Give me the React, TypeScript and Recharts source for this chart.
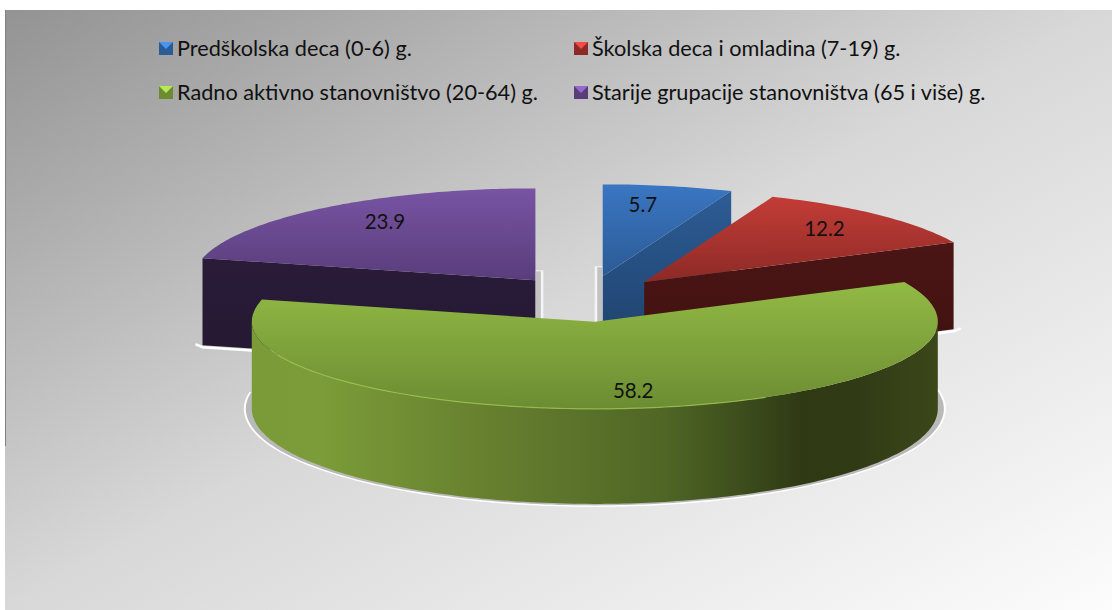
import { PieChart, Pie, Legend } from "recharts";

const categories = [
  "Predškolska deca (0-6) g.",
  "Školska deca i omladina (7-19) g.",
  "Radno aktivno stanovništvo (20-64) g.",
  "Starije grupacije stanovništva (65 i više) g.",
];
const shares = [5.7, 12.2, 58.2, 23.9];

const topFrom = ["#3a76c2", "#c43c37", "#92ba45", "#7854a3"];
const topTo = ["#2c5b95", "#8c2a26", "#6c8c32", "#593d7b"];
const sideFrom = ["#2d5c95", "#4b1615", "#7d9e39", "#2a1c39"];
const sideTo = ["#1d3f68", "#3e100f", "#384218", "#241832"];
const FRONT_SLICE = 2;

const data = categories.map((name, i) => ({ name, value: shares[i] }));

const RAD = Math.PI / 180;
const BACK_RY = 0.268;
const FRONT_RY = 0.254;
const EXPLODE = 0.25;

// the picture has a strong perspective, slices on the left sit further round
const warp = (t: number) => {
  if (t > 180) return t + 10 * Math.sin(((t - 180) / 180) * Math.PI);
  if (t < 45) return t + 1.5 * Math.sin(4 * t * RAD);
  return t;
};
const depthAt = (w: number) => 87 + 8 * Math.max(0, -Math.cos(w * RAD));

function project(ax: number, ay: number, r: number, t: number, extraX = 0, extraY = 0) {
  const w = warp(t) * RAD;
  const c = Math.cos(w);
  const ry = (c > 0 ? BACK_RY : FRONT_RY) * r + extraY;
  return { x: ax + (r + extraX) * Math.sin(w), y: ay - ry * c };
}

function apexOf(cx: number, cy: number, r: number, midAngle: number) {
  const w = warp(90 - midAngle) * RAD;
  const c = Math.cos(w);
  return {
    x: cx + EXPLODE * r * Math.sin(w) * (c > 0 ? 1 : 0.55),
    y: cy - 0.27 * EXPLODE * r * c,
  };
}

const toPath = (pts: { x: number; y: number }[], close = false) =>
  pts.map((p, i) => `${i ? "L" : "M"}${p.x.toFixed(1)},${p.y.toFixed(1)}`).join(" ") + (close ? " Z" : "");

function range(a: number, b: number) {
  const n = Math.max(2, Math.ceil(Math.abs(b - a)));
  const out: number[] = [];
  for (let i = 0; i <= n; i++) out.push(a + ((b - a) * i) / n);
  return out;
}

function Slice3D(props: any) {
  const { cx, cy, outerRadius: r, startAngle, endAngle, midAngle } = props;
  const i = data.findIndex((d) => d.value === props.value);
  const start = 90 - startAngle;
  const end = 90 - endAngle;
  const apex = apexOf(cx, cy, r, midAngle);
  const arcAngles = range(start, end);
  const arc = arcAngles.map((t) => project(apex.x, apex.y, r, t));
  const down = (p: { x: number; y: number }, d: number) => ({ x: p.x, y: p.y + d });

  const faces: any[] = [];
  const shadow: any[] = [];
  const sideId = `side${i}`;

  const addFace = (t: number, normal: number) => {
    const w = warp(t);
    if (-Math.cos(warp(normal) * RAD) <= 0.02) return;
    const p = project(apex.x, apex.y, r, t);
    const d = depthAt(w);
    const pts = [apex, p, down(p, d), down(apex, d)];
    faces.push(<path key={`f${t}`} d={toPath(pts, true)} fill={`url(#${sideId})`} />);
    shadow.push(
      <path
        key={`s${t}`}
        d={`M${p.x + (p.x > apex.x ? 7 : -7)},${p.y + d - 1} L${p.x},${p.y + d + 2} L${apex.x},${apex.y + d + 2}`}
        fill="none"
        stroke="#ffffff"
        strokeWidth={2.5}
      />
    );
  };
  addFace(start, start - 90);
  addFace(end, end + 90);

  // thin bars next to the upright cut of the slices touching twelve o'clock
  if (Math.abs(start) < 0.01 || Math.abs(end - 360) < 0.01) {
    const side = Math.abs(start) < 0.01 ? -1 : 1;
    const bx = apex.x + side * 4;
    const d = depthAt(0);
    shadow.push(
      <g key="bar">
        <line x1={bx} x2={bx} y1={apex.y - 10} y2={apex.y + d - 40} stroke="#ffffff" strokeWidth={8} opacity={0.75} />
        <line x1={bx - side} x2={bx - side} y1={apex.y - 9} y2={apex.y + d - 40} stroke="#c2c2c2" strokeWidth={5} />
      </g>
    );
  }

  const rimAngles = arcAngles.filter((t) => warp(t) >= 90 && warp(t) <= 270);
  let rim: any = null;
  if (rimAngles.length > 1) {
    const upper = rimAngles.map((t) => project(apex.x, apex.y, r, t));
    const lower = rimAngles.map((t) => down(project(apex.x, apex.y, r, t), depthAt(warp(t)))).reverse();
    rim = <path d={toPath([...upper, ...lower], true)} fill={`url(#${sideId})`} />;

    const halo = (ex: number, ey: number, fill: string) => {
      const pts = range(78, 270).map((t) => {
        const w = warp(t);
        return down(project(apex.x, apex.y, r, t, ex, ey), depthAt(w));
      });
      return <path d={toPath(pts, true)} fill={fill} />;
    };
    shadow.push(
      <g key="halo">
        {halo(8, 3, "#ffffff")}
        {halo(6, 1.5, "#b9b9b9")}
      </g>
    );
  }

  const isFront = i === FRONT_SLICE;

  return (
    <g>
      <defs>
        <linearGradient id={`top${i}`} x1="0" y1="0" x2="0" y2="1">
          <stop offset="0" stopColor={topFrom[i]} />
          <stop offset="1" stopColor={topTo[i]} />
        </linearGradient>
        {isFront ? (
          <linearGradient id={sideId} x1="0" y1="0" x2="1" y2="0">
            <stop offset="0" stopColor="#7a9b38" />
            <stop offset="0.1" stopColor="#7b9c38" />
            <stop offset="0.35" stopColor="#667f2f" />
            <stop offset="0.6" stopColor="#4f6625" />
            <stop offset="0.8" stopColor="#2f3a15" />
            <stop offset="0.88" stopColor="#303b16" />
            <stop offset="1" stopColor="#3b4719" />
          </linearGradient>
        ) : (
          <linearGradient id={sideId} x1="0" y1="0" x2="0" y2="1">
            <stop offset="0" stopColor={sideFrom[i]} />
            <stop offset="1" stopColor={sideTo[i]} />
          </linearGradient>
        )}
      </defs>
      {shadow}
      {faces}
      {rim}
      <path d={toPath([apex, ...arc], true)} fill={`url(#top${i})`} />
      {isFront && rimAngles.length > 1 ? (
        <path
          d={toPath(rimAngles.filter((t) => t < 240 && t > 150).map((t) => project(apex.x, apex.y, r, t)))}
          fill="none"
          stroke="#9cc44e"
          strokeWidth={1.2}
          opacity={0.8}
        />
      ) : null}
    </g>
  );
}

function sliceLabel(props: any) {
  const { cx, cy, outerRadius: r, midAngle, value } = props;
  const apex = apexOf(cx, cy, r, midAngle);
  const w = warp(90 - midAngle) * RAD;
  const s = Math.sin(w);
  const c = Math.cos(w);
  const fx = 0.53 + 0.36 * Math.abs(s);
  return (
    <text
      x={apex.x + r * s * fx}
      y={apex.y - r * (c > 0 ? BACK_RY : FRONT_RY) * c * 0.8}
      textAnchor="middle"
      dominantBaseline="central"
      fontFamily="Lato, 'Open Sans', sans-serif"
      fontSize={20.5}
      fill="#111"
    >
      {value}
    </text>
  );
}

const legendOrder = [
  { i: 0, left: 159, top: 36 },
  { i: 1, left: 574, top: 36 },
  { i: 2, left: 159, top: 80 },
  { i: 3, left: 574, top: 80 },
];

function LegendBox() {
  return (
    <div style={{ position: "relative", width: 1112, height: 0 }}>
      {legendOrder.map(({ i, left, top }) => (
        <div
          key={i}
          style={{
            position: "absolute",
            left,
            top,
            whiteSpace: "nowrap",
            fontFamily: "Lato, 'Open Sans', sans-serif",
            fontSize: 21.7,
            lineHeight: "24px",
            color: "#111",
          }}
        >
          <svg width={14} height={13} style={{ position: "absolute", left: 0, top: 6 }}>
            <rect width={14} height={13} fill={topTo[i]} />
            <path d="M0,0 L14,0 L7,7 Z" fill={topFrom[i]} style={{ filter: "brightness(1.25)" }} />
          </svg>
          <span style={{ marginLeft: 18 }}>{categories[i]}</span>
        </div>
      ))}
    </div>
  );
}

const renderBack = (p: any) => (p.value === shares[FRONT_SLICE] ? <g /> : <Slice3D {...p} />);
const renderFront = (p: any) => (p.value === shares[FRONT_SLICE] ? <Slice3D {...p} /> : <g />);
const labelBack = (p: any) => (p.value === shares[FRONT_SLICE] ? <g /> : sliceLabel(p));
const labelFront = (p: any) => (p.value === shares[FRONT_SLICE] ? sliceLabel(p) : <g />);

export default function App() {
  return (
    <div style={{ position: "absolute", left: 0, top: 0, width: 1112, height: 610, overflow: "hidden", background: "#fff" }}>
      <div
        style={{
          position: "absolute",
          left: 5,
          top: 10,
          width: 1107,
          height: 600,
          background: "linear-gradient(to bottom right, #939393, #d8d8d8 50%, #fcfcfc)",
        }}
      />
      <div style={{ position: "absolute", left: 5, top: 10, width: 1, height: 436, background: "#808080" }} />
      <div style={{ position: "absolute", left: 0, top: 0 }}>
        <PieChart width={1112} height={610} margin={{ top: 0, right: 0, bottom: 0, left: 0 }}>
          <Pie
            data={data}
            dataKey="value"
            nameKey="name"
            cx={586}
            cy={299}
            outerRadius={343}
            startAngle={90}
            endAngle={-270}
            stroke="none"
            shape={renderBack}
            label={labelBack}
            labelLine={false}
            isAnimationActive={false}
          />
          <Pie
            data={data}
            dataKey="value"
            nameKey="name"
            cx={586}
            cy={299}
            outerRadius={343}
            startAngle={90}
            endAngle={-270}
            stroke="none"
            shape={renderFront}
            label={labelFront}
            labelLine={false}
            isAnimationActive={false}
          />
          <Legend content={<LegendBox />} verticalAlign="top" wrapperStyle={{ left: 0, top: 0, width: 1112, height: 0 }} />
        </PieChart>
      </div>
    </div>
  );
}
